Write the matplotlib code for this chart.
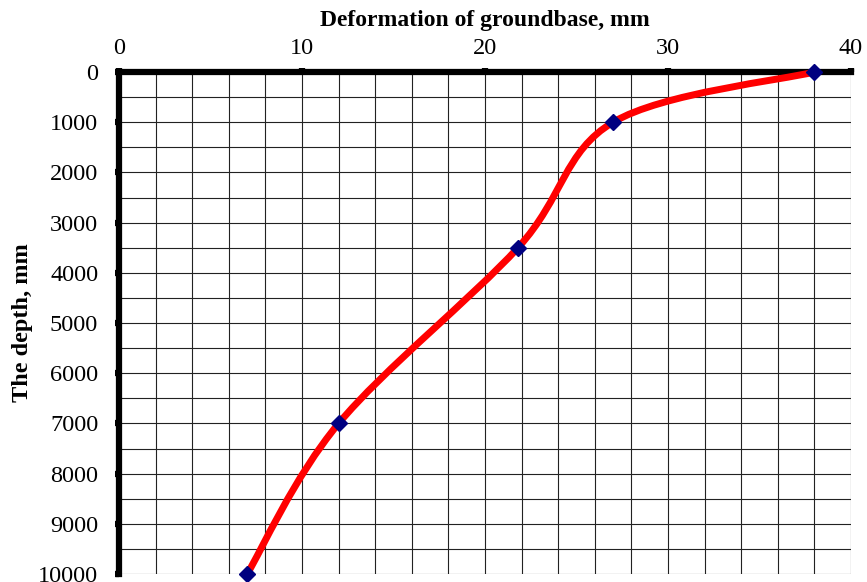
import numpy as np
import matplotlib
matplotlib.use("Agg")
import matplotlib.pyplot as plt
from matplotlib.path import Path
from matplotlib.patches import PathPatch

deformation = [38, 27, 21.8, 12, 7]
depth = [0, 1000, 3500, 7000, 10000]
x_ticks = [0, 10, 20, 30, 40]
y_ticks = [0, 1000, 2000, 3000, 4000, 5000, 6000, 7000, 8000, 9000, 10000]

plt.rcParams['font.family'] = ['Liberation Serif', 'DejaVu Serif']

fig = plt.figure(figsize=(8.67, 5.82), dpi=100)
ax = fig.add_axes([0.1373, 0.0137, 0.8443, 0.8626])

ax.set_xlim(0, 40)
ax.set_ylim(10000, 0)
ax.xaxis.tick_top()
ax.xaxis.set_label_position('top')
ax.set_xticks(x_ticks)
ax.set_yticks(y_ticks)
ax.set_xticks(np.arange(0, 41, 2), minor=True)
ax.set_yticks(np.arange(0, 10001, 500), minor=True)
ax.grid(which='both', color='#222222', linewidth=0.8)
ax.tick_params(which='major', length=3, width=4.5, color='black', labelsize=17.5)
ax.tick_params(axis='y', which='major', pad=12)
ax.tick_params(axis='x', which='major', pad=6)
ax.tick_params(which='minor', length=0)
for s in ['bottom', 'right']:
    ax.spines[s].set_visible(False)
for s in ['top', 'left']:
    ax.spines[s].set_linewidth(4.5)
    ax.spines[s].set_zorder(3)

ax.set_xlabel('Deformation of groundbase, mm', fontsize=17, fontweight='bold')
ax.xaxis.set_label_coords(0.5, 1.092)
ax.set_ylabel('The depth, mm', fontsize=17.5, fontweight='bold')
ax.yaxis.set_label_coords(-0.118, 0.5)

# smoothed line (Catmull-Rom style bezier like spreadsheet smoothing)
pts = np.column_stack([deformation, depth]).astype(float)
n = len(pts)
verts = [tuple(pts[0])]
codes = [Path.MOVETO]
for i in range(n - 1):
    p0 = pts[i - 1] if i > 0 else pts[i]
    p1 = pts[i]
    p2 = pts[i + 1]
    p3 = pts[i + 2] if i + 2 < n else pts[i + 1]
    c1 = p1 + (p2 - p0) / 6.0
    c2 = p2 - (p3 - p1) / 6.0
    verts += [tuple(c1), tuple(c2), tuple(p2)]
    codes += [Path.CURVE4] * 3
patch = PathPatch(Path(verts, codes), facecolor='none', edgecolor='#ff0000',
                  linewidth=5, zorder=4, clip_on=False, capstyle='butt')
ax.add_patch(patch)
ax.plot(deformation, depth, linestyle='none', marker='D', markersize=8,
        color='#000080', zorder=5, clip_on=False)

fig.savefig('out.png', dpi=100)
